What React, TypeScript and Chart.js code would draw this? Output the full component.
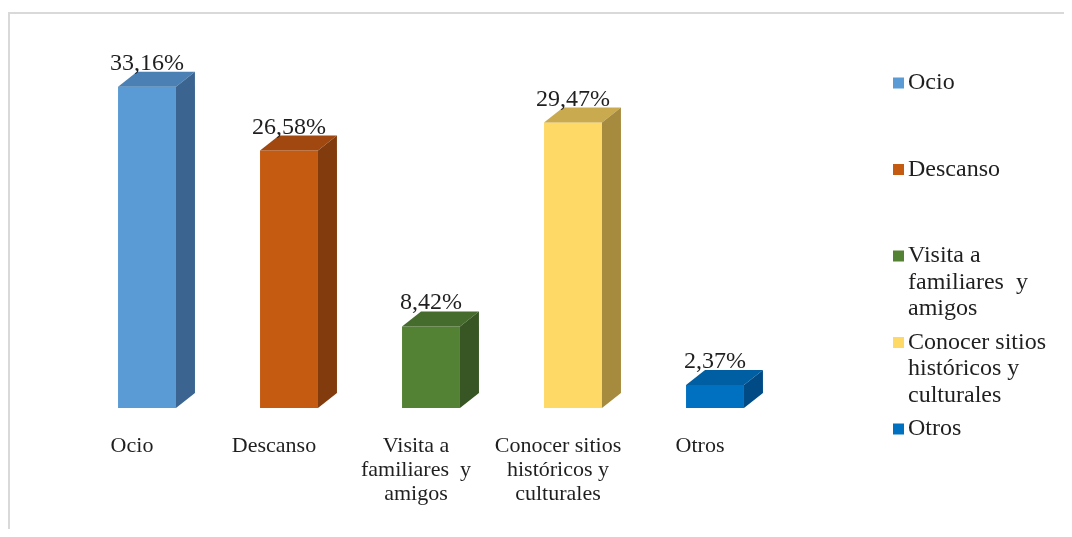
import React, { useEffect, useRef } from "react";
import { Chart, registerables } from "chart.js";

Chart.register(...registerables);

const categories: string[][] = [
  ["Ocio"],
  ["Descanso"],
  ["Visita a", "familiares  y", "amigos"],
  ["Conocer sitios", "históricos y", "culturales"],
  ["Otros"],
];
const values: number[] = [33.16, 26.58, 8.42, 29.47, 2.37];
const valueLabels: string[] = ["33,16%", "26,58%", "8,42%", "29,47%", "2,37%"];
const frontColors = ["#5B9BD5", "#C55A11", "#548235", "#FFD966", "#0070C0"];
const topColors = ["#4A80B4", "#A0480F", "#456C2C", "#C9AA4E", "#005EA3"];
const sideColors = ["#3B6590", "#813B0C", "#375623", "#A68B3E", "#004B86"];

const SERIF = '"Liberation Serif", "Times New Roman", serif';
const DX = 19;
const DY = 15;

const decorPlugin = {
  id: "decor",
  beforeDraw(chart: any) {
    const ctx = chart.ctx;
    ctx.save();
    ctx.strokeStyle = "#d9d9d9";
    ctx.lineWidth = 2;
    ctx.beginPath();
    ctx.moveTo(1, chart.height);
    ctx.lineTo(1, 5);
    ctx.lineTo(chart.width, 5);
    ctx.stroke();
    ctx.restore();
  },
  afterDatasetsDraw(chart: any) {
    const ctx = chart.ctx;
    const meta = chart.getDatasetMeta(0);
    ctx.save();
    meta.data.forEach((el: any, i: number) => {
      const w = el.width;
      const left = el.x - w / 2;
      const right = el.x + w / 2;
      const top = el.y;
      const base = el.base;
      ctx.fillStyle = topColors[i];
      ctx.beginPath();
      ctx.moveTo(left, top);
      ctx.lineTo(left + DX, top - DY);
      ctx.lineTo(right + DX, top - DY);
      ctx.lineTo(right, top);
      ctx.closePath();
      ctx.fill();
      ctx.fillStyle = sideColors[i];
      ctx.beginPath();
      ctx.moveTo(right, top);
      ctx.lineTo(right + DX, top - DY);
      ctx.lineTo(right + DX, base - DY);
      ctx.lineTo(right, base);
      ctx.closePath();
      ctx.fill();
      ctx.fillStyle = "#1f1f1f";
      ctx.font = `24px ${SERIF}`;
      ctx.textAlign = "center";
      ctx.textBaseline = "alphabetic";
      ctx.fillText(valueLabels[i], el.x, top - DY - 2);
    });
    const xs = chart.scales.x;
    ctx.font = `22px ${SERIF}`;
    ctx.fillStyle = "#1f1f1f";
    ctx.textAlign = "center";
    ctx.textBaseline = "middle";
    categories.forEach((lines, i) => {
      const cx = xs.getPixelForValue(i) - 15;
      lines.forEach((ln, j) => {
        ctx.fillText(ln, cx, 438 + j * 24);
      });
    });
    ctx.font = `24px ${SERIF}`;
    ctx.textAlign = "left";
    categories.forEach((lines, i) => {
      const y0 = 75 + i * 86.5;
      ctx.fillStyle = frontColors[i];
      ctx.fillRect(885, y0 - 5.5, 11, 11);
      ctx.fillStyle = "#1f1f1f";
      lines.forEach((ln, j) => {
        ctx.fillText(ln, 900, y0 + j * 26.5);
      });
    });
    ctx.restore();
  },
};

export default function App() {
  const ref = useRef<HTMLCanvasElement | null>(null);
  useEffect(() => {
    document.documentElement.style.overflow = "hidden";
    document.body.style.overflow = "hidden";
    if (!ref.current) return;
    const chart = new Chart(ref.current, {
      type: "bar",
      data: {
        labels: categories.map((c) => c.join(" ")),
        datasets: [
          {
            data: values,
            backgroundColor: frontColors,
            borderWidth: 0,
            barPercentage: 0.408,
            categoryPercentage: 1,
          },
        ],
      },
      options: {
        responsive: false,
        animation: false,
        layout: { padding: { left: 68, right: 286, top: 61, bottom: 121 } },
        plugins: {
          legend: { display: false },
          tooltip: { enabled: false },
        },
        scales: {
          x: { display: false, grid: { display: false } },
          y: { display: false, min: 0, max: 35 },
        },
      },
      plugins: [decorPlugin],
    });
    return () => chart.destroy();
  }, []);
  return (
    <canvas
      ref={ref}
      width={1064}
      height={521}
      style={{ display: "block", width: 1064, height: 521 }}
    />
  );
}
